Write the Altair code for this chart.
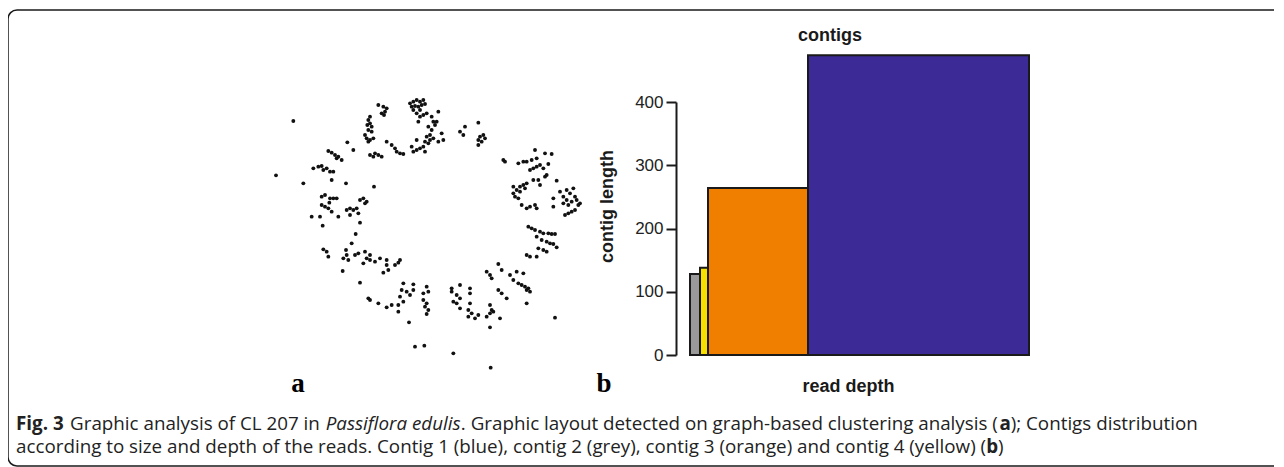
import altair as alt
import pandas as pd

# ---------------- panel a: graph layout (layout coordinates, y grows downward) -------------
layout_x = [100, 48, 130, 262, 280, 342, 258, 215,
            355, 370, 380, 375, 365, 372,
            330, 325, 330, 322, 335, 325, 335, 315, 320, 330, 325, 340,
            330, 345, 355, 340, 365,
            380, 395, 405, 410, 420, 430,
            450, 460, 470, 480, 490, 455, 465, 475, 485, 495, 460, 480, 470, 490, 500,
            515, 520, 525, 505, 515, 510, 500, 520, 495, 505, 490, 480, 470, 460, 495, 510, 535, 545, 550, 535, 530, 480, 475, 470, 455,
            600, 615, 610, 655, 660, 655, 665, 670, 675, 655,
            730, 735, 775, 790, 800, 815, 825, 830, 855, 875, 865, 840, 830, 820, 810, 850, 860, 890, 835, 820, 800, 790, 780, 770, 760, 765, 775, 780, 795, 760, 840, 855, 785, 800, 810, 825, 830,
            880, 880, 900, 910, 920, 930, 940, 945, 935, 950, 955, 920, 910, 925, 960, 915, 925, 935, 945,
            805, 815, 825, 840, 850, 865, 875, 885, 830, 845, 860, 870, 880, 890, 835, 850, 860, 800, 810, 830,
            715, 680, 690, 695, 725, 750, 770, 790, 760, 775, 785, 795, 800, 810, 805, 715, 725, 740, 800, 690, 695, 690, 700, 720, 690, 885, 680,
            575, 600, 575, 590, 600, 630, 630, 580, 590, 600, 630, 625, 635, 625, 645, 655,
            430, 460, 500, 425, 440, 460, 505, 490, 420, 450, 490, 500, 495, 505, 500, 430, 415,
            325, 330, 355, 380, 395, 415,
            447, 465, 493, 580, 692,
            190, 200, 205, 250, 260, 265, 285, 295, 315, 330, 320, 310, 330, 345, 360, 380, 380, 385, 370, 405, 415, 420, 248, 300, 258, 275, 287,
            185, 195, 210, 220, 230, 185, 195, 205, 215, 180, 155, 235, 260, 270, 280, 290, 300, 310, 315, 320, 295, 270, 188, 300, 208,
            205, 215, 225, 235, 245, 230, 160, 175, 185, 190, 200, 210, 220]
layout_y = [93, 256, 280, 157, 180, 290, 280, 270,
            45, 50, 55, 65, 70, 75,
            80, 90, 100, 105, 110, 120, 125, 135, 145, 150, 155, 145,
            195, 190, 195, 200, 200,
            155, 165, 175, 185, 190, 192,
            40, 35, 30, 35, 30, 50, 48, 50, 45, 42, 60, 60, 70, 75, 70,
            80, 95, 105, 110, 120, 135, 140, 145, 155, 160, 170, 175, 180, 185, 185, 150, 65, 130, 150, 155, 95, 80, 95, 150, 170,
            125, 110, 135, 98, 140, 150, 155, 135, 145, 165,
            210, 215, 220, 215, 215, 210, 180, 205, 190, 192, 222, 225, 230, 235, 240, 235, 255, 272, 270, 270, 280, 285, 290, 300, 310, 320, 325, 305, 295, 290, 285, 260, 345, 355, 350, 345, 355,
            325, 350, 305, 320, 300, 310, 295, 320, 335, 330, 345, 330, 340, 345, 340, 375, 370, 365, 360,
            410, 415, 420, 425, 430, 430, 432, 432, 440, 450, 455, 460, 462, 472, 475, 480, 485, 495, 500, 500,
            522, 545, 555, 565, 540, 555, 545, 550, 570, 580, 585, 590, 600, 605, 595, 600, 610, 625, 640, 645, 660, 670, 665, 685, 712, 683, 680,
            595, 585, 605, 615, 625, 595, 610, 635, 640, 655, 640, 660, 670, 680, 685, 675,
            580, 583, 590, 600, 605, 600, 605, 610, 620, 615, 630, 640, 650, 660, 672, 635, 645,
            625, 630, 640, 652, 645, 665,
            697, 770, 767, 790, 833,
            478, 485, 500, 505, 495, 510, 495, 490, 485, 495, 505, 520, 510, 515, 505, 510, 525, 540, 548, 525, 518, 510, 543, 578, 480, 460, 432,
            320, 315, 325, 325, 325, 345, 350, 355, 365, 380, 380, 380, 360, 355, 360, 355, 330, 325, 340, 335, 370, 375, 407, 398, 338,
            183, 188, 195, 200, 210, 205, 235, 230, 228, 240, 235, 245, 245]

# ---------------- panel b: contigs -------------
contig_names = ["contig 2", "contig 4", "contig 3", "contig 1"]
contig_colors = ["#9a9a9a", "#f7e000", "#f07f00", "#3c2a96"]
read_depth = [10, 8, 100, 221]
contig_length = [128, 138, 264, 474]
y_ticks = [0, 100, 200, 300, 400]

x0, acc = [], 0
for w in read_depth:
    x0.append(acc)
    acc += w
x1 = [a + w for a, w in zip(x0, read_depth)]

bars_df = pd.DataFrame({"contig": contig_names, "x0": x0, "x1": x1, "length": contig_length})
pts_df = pd.DataFrame({"lx": layout_x, "ly": layout_y})
one = pd.DataFrame({"k": [0]})

# ---------------- layout -------------
W, H = 353, 253
OX, OY = 676, 102          # page position of the bar plot origin
PAD_L, PAD_T = OX - 8, OY - 8
TOTAL_W, TOTAL_H = 1266, 459
pad = {"left": PAD_L, "top": PAD_T, "right": TOTAL_W - PAD_L - W, "bottom": TOTAL_H - PAD_T - H}
INK = "#1a1a1a"


def px(x):
    return x - OX


def py(y):
    return y - OY


border = alt.Chart(one).mark_rect(
    fillOpacity=0, stroke=INK, strokeWidth=1.5, cornerRadius=9
).encode(x=alt.value(px(8)), x2=alt.value(px(1300)), y=alt.value(py(10)), y2=alt.value(py(466)))

points = alt.Chart(pts_df).mark_circle(size=15, color="#111111", opacity=1).encode(
    x=alt.X("lx:Q", scale=alt.Scale(domain=[0, 1020], range=[px(260), px(600)]), axis=None),
    y=alt.Y("ly:Q", scale=alt.Scale(domain=[0, 870], range=[py(90), py(380)]), axis=None),
)

bars = alt.Chart(bars_df).mark_rect(stroke=INK, strokeWidth=2).encode(
    x=alt.X("x0:Q", scale=alt.Scale(domain=[-14, 339], nice=False),
            axis=alt.Axis(title="read depth", ticks=False, labels=False, domain=False, grid=False,
                          titleX=172, titleY=36, titleBaseline="alphabetic",
                          titleFontSize=18, titleFontWeight="bold", titleColor=INK,
                          titleFont="Liberation Sans")),
    x2="x1:Q",
    y=alt.Y("length:Q", scale=alt.Scale(domain=[0, 400], nice=False),
            axis=alt.Axis(values=y_ticks, title="contig length", grid=False,
                          titleX=-64, titleY=104, titleBaseline="alphabetic", titleAlign="center",
                          titleFontSize=18, titleFontWeight="bold", titleColor=INK,
                          titleFont="Liberation Sans",
                          labelFont="Liberation Sans", labelFontSize=17, labelColor="#222222",
                          labelPadding=3, tickSize=10, tickWidth=2, tickColor=INK,
                          domainWidth=2, domainColor=INK)),
    y2=alt.datum(0),
    color=alt.Color("contig:N", scale=alt.Scale(domain=contig_names, range=contig_colors), legend=None),
)


def label(text, x, y, size, weight="normal", style="normal", align="left",
          font="Open Sans", color="#222222"):
    return alt.Chart(one).mark_text(
        text=text, font=font, fontSize=size, fontWeight=weight, fontStyle=style,
        align=align, baseline="alphabetic", color=color
    ).encode(x=alt.value(px(x)), y=alt.value(py(y)))


# caption: run-in segments, advances in em (Open Sans metrics)
CAP = 18.8
SPACE = 0.26
GAP = 0.3
L1, L2 = 430, 453
seg1_em = [2.60 + SPACE, 13.32 + SPACE, 7.125 + 0.05, 28.61 + 0.03, 0.574]
seg2_em = [51.59, 0.617]
c1_x = [16.0]
for e in seg1_em:
    c1_x.append(c1_x[-1] + e * CAP + GAP)
c2_x = [16.0]
for e in seg2_em:
    c2_x.append(c2_x[-1] + e * CAP + GAP)

texts = [
    label("contigs", 830, 41, 18, weight="bold", align="center", font="Liberation Sans", color=INK),
    label("a", 298, 392, 27, weight="bold", align="center", font="Liberation Serif", color="#000000"),
    label("b", 604, 392, 27, weight="bold", align="center", font="Liberation Serif", color="#000000"),
    # caption line 1
    label("Fig. 3", c1_x[0], L1, CAP, weight="bold"),
    label("Graphic analysis of CL 207 in", c1_x[1], L1, CAP),
    label("Passiflora edulis", c1_x[2], L1, CAP, style="italic"),
    label(". Graphic layout detected on graph-based clustering analysis (", c1_x[3], L1, CAP),
    label("a", c1_x[4], L1, CAP, weight="bold"),
    label("); Contigs distribution", c1_x[5], L1, CAP),
    # caption line 2
    label("according to size and depth of the reads. Contig 1 (blue), contig 2 (grey), "
          "contig 3 (orange) and contig 4 (yellow) (", c2_x[0], L2, CAP),
    label("b", c2_x[1], L2, CAP, weight="bold"),
    label(")", c2_x[2], L2, CAP),
]

chart = alt.layer(border, points, bars, *texts).resolve_scale(
    x="independent", y="independent"
).properties(
    width=W, height=H, padding=pad, autosize=alt.AutoSizeParams(type="none"),
    background="#ffffff",
).configure_view(strokeWidth=0)

chart.save("out.html", embed_options={"renderer": "svg", "actions": False})
